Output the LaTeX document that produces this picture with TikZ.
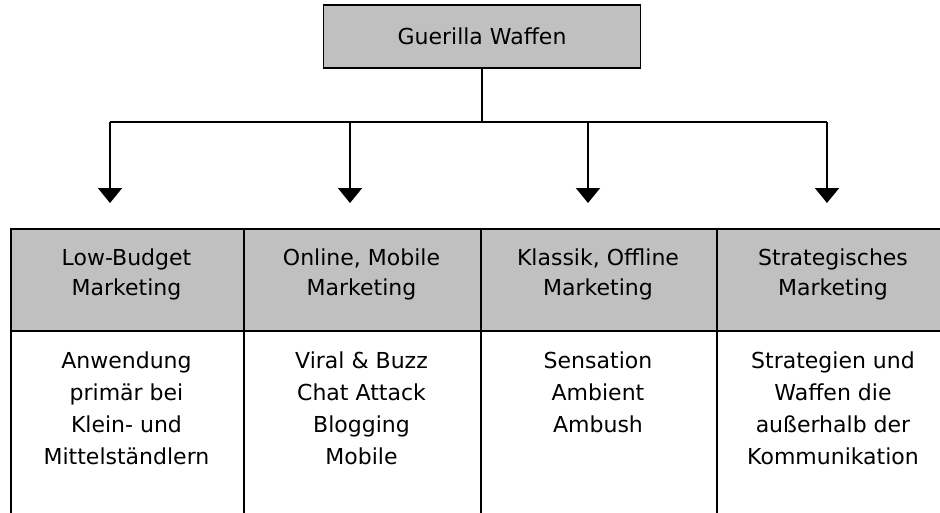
\documentclass[tikz,border=0pt]{standalone}
\usepackage{fontspec}
\setmainfont{DejaVu Sans}
\usetikzlibrary{arrows.meta}
\definecolor{gwgray}{RGB}{192,192,192}
\newcommand\gwcell[1]{\parbox[t]{228pt}{\centering #1}}
\begin{document}
\begin{tikzpicture}[x=1pt,y=-1pt,
  topbox/.style={draw=black, line width=1.8pt, fill=gwgray, inner sep=0pt,
    minimum width=317pt, minimum height=63pt, font=\fontsize{22}{30}\selectfont},
  cellbox/.style={draw=black, line width=1.8pt, anchor=north west, inner sep=0pt},
  hdrcell/.style={cellbox, fill=gwgray, minimum height=102pt},
  bodycell/.style={cellbox, fill=white, minimum height=220pt},
  hdrtxt/.style={anchor=base, inner sep=0pt, font=\fontsize{22}{30}\selectfont},
  bodytxt/.style={anchor=base, inner sep=0pt, font=\fontsize{22}{32}\selectfont},
  link/.style={line width=1.8pt},
  arr/.style={line width=1.8pt, -{Triangle[width=24pt,length=15pt]}}]
\useasboundingbox (0,0) rectangle (940,512);
\clip (0,0) rectangle (940,512);
\fill[white] (0,0) rectangle (940,512);

% top node
\node[topbox] (top) at (482,36.5) {Guerilla Waffen};

% connector skeleton
\coordinate (hub) at (482,122);
\coordinate (a1) at (110,122);
\coordinate (a2) at (350,122);
\coordinate (a3) at (588,122);
\coordinate (a4) at (827,122);
\coordinate (t1) at (110,203);
\coordinate (t2) at (350,203);
\coordinate (t3) at (588,203);
\coordinate (t4) at (827,203);

\draw[link] (top.south) -- (hub);
\draw[link] (a1) -- (a4);
\draw[arr] (a1) -- (t1);
\draw[arr] (a2) -- (t2);
\draw[arr] (a3) -- (t3);
\draw[arr] (a4) -- (t4);

% table header cells
\node[hdrcell, minimum width=233pt] (h1) at (10,228) {};
\node[hdrcell, minimum width=237pt] (h2) at (243,228) {};
\node[hdrcell, minimum width=236pt] (h3) at (480,228) {};
\node[hdrcell, minimum width=234pt] (h4) at (716,228) {};

% table body cells
\node[bodycell, minimum width=233pt] (b1) at (10,330) {};
\node[bodycell, minimum width=237pt] (b2) at (243,330) {};
\node[bodycell, minimum width=236pt] (b3) at (480,330) {};
\node[bodycell, minimum width=234pt] (b4) at (716,330) {};

% header texts
\node[hdrtxt] (h1t) at (126.5,265) {\gwcell{Low-Budget\\Marketing}};
\node[hdrtxt] (h2t) at (361.5,265) {\gwcell{Online, Mobile\\Marketing}};
\node[hdrtxt] (h3t) at (598,265) {\gwcell{Klassik, Offline\\Marketing}};
\node[hdrtxt] (h4t) at (833,265) {\gwcell{Strategisches\\Marketing}};

% body texts
\node[bodytxt] (b1t) at (126.5,368) {\gwcell{Anwendung\\primär bei\\Klein- und\\Mittelständlern}};
\node[bodytxt] (b2t) at (361.5,368) {\gwcell{Viral \& Buzz\\Chat Attack\\Blogging\\Mobile}};
\node[bodytxt] (b3t) at (598,368) {\gwcell{Sensation\\Ambient\\Ambush}};
\node[bodytxt] (b4t) at (833,368) {\gwcell{Strategien und\\Waffen die\\außerhalb der\\Kommunikation}};
\end{tikzpicture}
\end{document}
